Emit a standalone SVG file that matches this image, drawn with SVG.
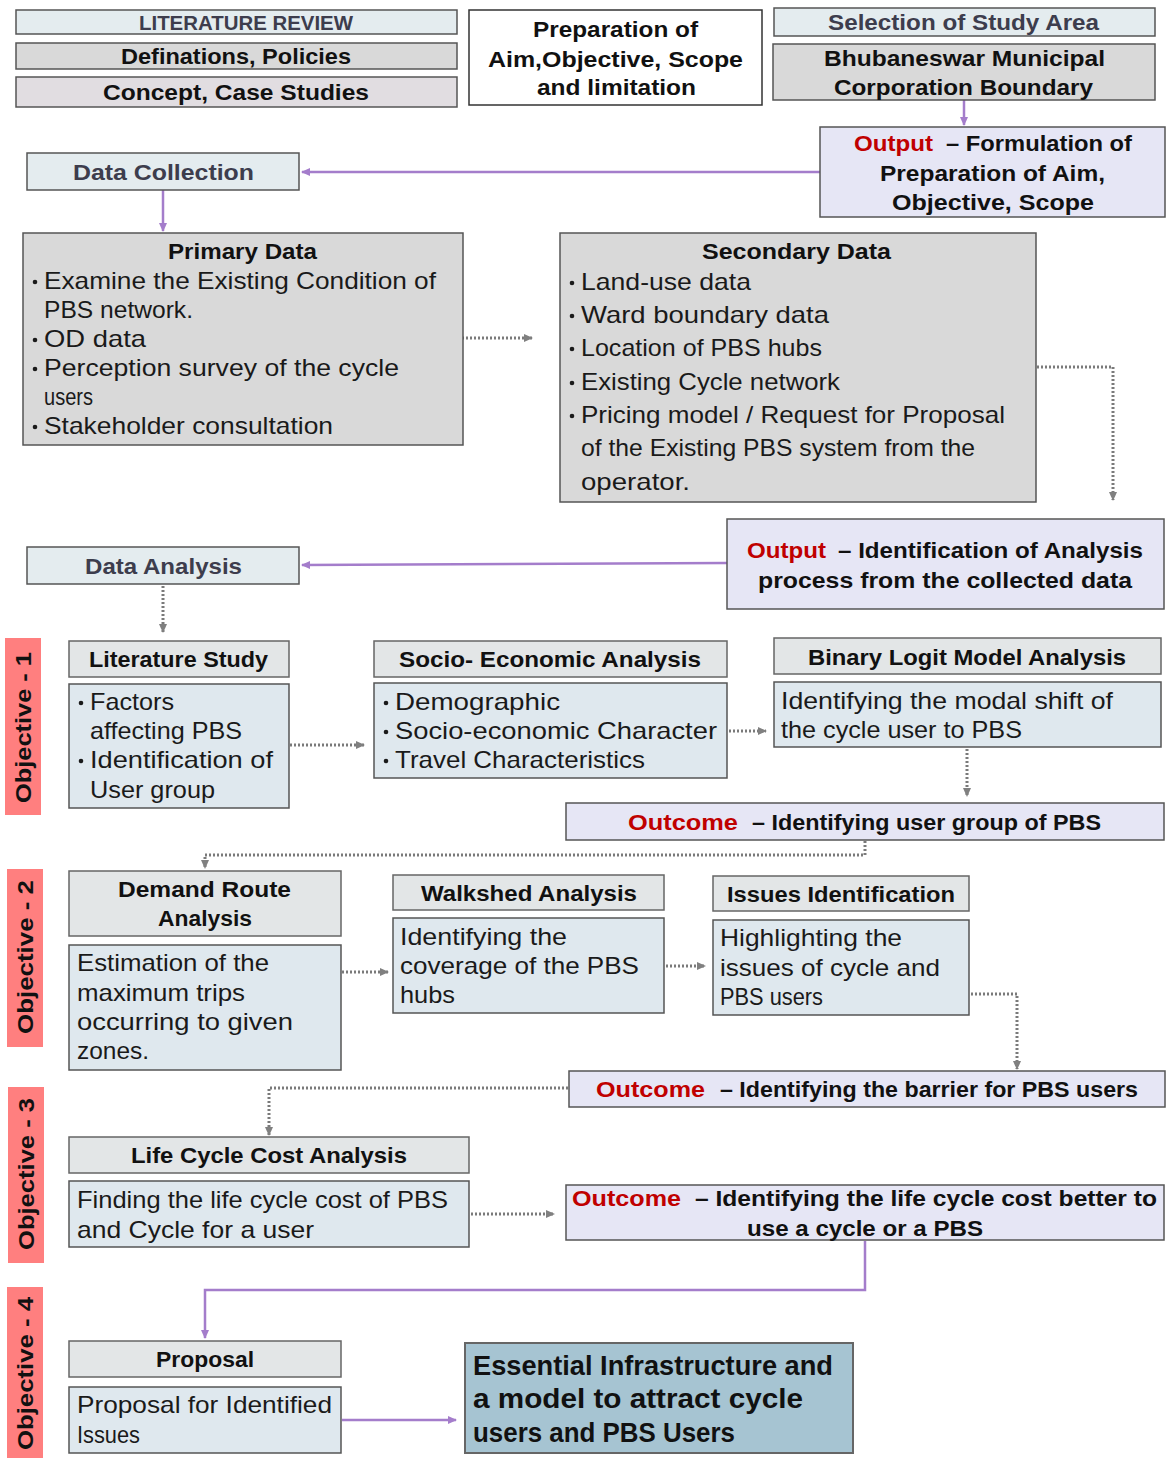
<svg xmlns="http://www.w3.org/2000/svg" width="1166" height="1458" viewBox="0 0 1166 1458">
<defs>
<style>
.b{font-family:"Liberation Sans",Arial,sans-serif;font-weight:bold;fill:#111}
.r{font-family:"Liberation Sans",Arial,sans-serif;fill:#1a1a1a}
.g{fill:#3d3d4d}
.red{fill:#c00000}
.lb{fill:#e4ecef;stroke:#555;stroke-width:1.5}
.gr{fill:#d9d9d9;stroke:#555;stroke-width:1.5}
.pk{fill:#e1dde1;stroke:#555;stroke-width:1.5}
.lv{fill:#e6e6f5;stroke:#555;stroke-width:1.5}
.hd{fill:#e3e6e7;stroke:#666;stroke-width:1.5}
.bd{fill:#dfe8ee;stroke:#555;stroke-width:1.5}
.ob{fill:#ff7f7f}
.wh{fill:#fff;stroke:#333;stroke-width:1.5}
.es{fill:#a6c4d2;stroke:#666;stroke-width:2}
.pa{fill:none;stroke:#a47dcb;stroke-width:2.5}
.da{fill:none;stroke:#7a7a7a;stroke-width:3;stroke-dasharray:2 2}
.bu{fill:#1a1a1a}
</style>
<marker id="ap" markerWidth="10" markerHeight="10" refX="8" refY="5" orient="auto" markerUnits="userSpaceOnUse"><path d="M0,1 L9,5 L0,9 z" fill="#a47dcb"/></marker>
<marker id="ag" markerWidth="10" markerHeight="10" refX="8" refY="5" orient="auto" markerUnits="userSpaceOnUse"><path d="M0,1 L9,5 L0,9 z" fill="#808080"/></marker>
</defs>

<g id="connectors">
<line class="pa" x1="964" y1="100" x2="964" y2="125" marker-end="url(#ap)"/>
<line class="pa" x1="820" y1="172" x2="302" y2="172" marker-end="url(#ap)"/>
<line class="pa" x1="163" y1="190" x2="163" y2="231" marker-end="url(#ap)"/>
<line class="da" x1="462" y1="338" x2="532" y2="338" marker-end="url(#ag)"/>
<polyline class="da" points="1037,367 1113,367 1113,500" marker-end="url(#ag)"/>
<line class="pa" x1="727" y1="563" x2="302" y2="565" marker-end="url(#ap)"/>
<line class="da" x1="163" y1="586" x2="163" y2="632" marker-end="url(#ag)"/>
<line class="da" x1="290" y1="745" x2="364" y2="745" marker-end="url(#ag)"/>
<line class="da" x1="729" y1="731" x2="766" y2="731" marker-end="url(#ag)"/>
<line class="da" x1="967" y1="749" x2="967" y2="796" marker-end="url(#ag)"/>
<polyline class="da" points="865,841 865,855 205,855 205,868" marker-end="url(#ag)"/>
<line class="da" x1="342" y1="972" x2="388" y2="972" marker-end="url(#ag)"/>
<line class="da" x1="666" y1="966" x2="705" y2="966" marker-end="url(#ag)"/>
<polyline class="da" points="971,994 1017,994 1017,1069" marker-end="url(#ag)"/>
<polyline class="da" points="568,1088 269,1088 269,1135" marker-end="url(#ag)"/>
<line class="da" x1="471" y1="1214" x2="554" y2="1214" marker-end="url(#ag)"/>
<polyline class="pa" points="865,1241 865,1290 205,1290 205,1338" marker-end="url(#ap)"/>
<line class="pa" x1="342" y1="1420" x2="456" y2="1420" marker-end="url(#ap)"/>
</g>

<g id="literature-review"><rect class="lb" x="16" y="10" width="441" height="24"/><text class="b g" x="139" y="30" font-size="21" textLength="214" lengthAdjust="spacingAndGlyphs">LITERATURE REVIEW</text></g>
<g id="definations"><rect class="gr" x="16" y="43" width="441" height="26"/><text class="b" x="121" y="64" font-size="22" textLength="230" lengthAdjust="spacingAndGlyphs">Definations, Policies</text></g>
<g id="concept"><rect class="pk" x="16" y="77" width="441" height="30"/><text class="b" x="103" y="100" font-size="22" textLength="266" lengthAdjust="spacingAndGlyphs">Concept, Case Studies</text></g>

<g id="aim"><rect class="wh" x="469" y="10" width="293" height="95"/>
<text class="b" x="533" y="37" font-size="22" textLength="165" lengthAdjust="spacingAndGlyphs">Preparation of</text>
<text class="b" x="488" y="67" font-size="22" textLength="255" lengthAdjust="spacingAndGlyphs">Aim,Objective, Scope</text>
<text class="b" x="537" y="95" font-size="22" textLength="159" lengthAdjust="spacingAndGlyphs">and limitation</text></g>

<g id="selection"><rect class="lb" x="774" y="8" width="381" height="28"/><text class="b g" x="828" y="30" font-size="22" textLength="271" lengthAdjust="spacingAndGlyphs">Selection of Study Area</text></g>
<g id="bmc"><rect class="gr" x="773" y="44" width="382" height="56"/>
<text class="b" x="824" y="66" font-size="22" textLength="281" lengthAdjust="spacingAndGlyphs">Bhubaneswar Municipal</text>
<text class="b" x="834" y="95" font-size="22" textLength="259" lengthAdjust="spacingAndGlyphs">Corporation Boundary</text></g>

<g id="output1"><rect class="lv" x="820" y="127" width="345" height="90"/>
<text class="b red" x="854" y="151" font-size="22" textLength="79" lengthAdjust="spacingAndGlyphs">Output</text>
<text class="b" x="946" y="151" font-size="22" textLength="186" lengthAdjust="spacingAndGlyphs">– Formulation of</text>
<text class="b" x="880" y="181" font-size="22" textLength="225" lengthAdjust="spacingAndGlyphs">Preparation of Aim,</text>
<text class="b" x="892" y="210" font-size="22" textLength="202" lengthAdjust="spacingAndGlyphs">Objective, Scope</text></g>

<g id="data-collection"><rect class="lb" x="27" y="153" width="272" height="37"/><text class="b g" x="73" y="180" font-size="22" textLength="181" lengthAdjust="spacingAndGlyphs">Data Collection</text></g>

<g id="primary"><rect class="gr" x="23" y="233" width="440" height="212"/>
<text class="b" x="168" y="259" font-size="22" textLength="149" lengthAdjust="spacingAndGlyphs">Primary Data</text>
<g class="bu"><circle cx="35" cy="282" r="2.3"/><circle cx="35" cy="340" r="2.3"/><circle cx="35" cy="369" r="2.3"/><circle cx="35" cy="427" r="2.3"/></g>
<g class="r" font-size="24">
<text x="44" y="289" textLength="392" lengthAdjust="spacingAndGlyphs">Examine  the Existing Condition of</text>
<text x="44" y="318" textLength="149" lengthAdjust="spacingAndGlyphs">PBS network.</text>
<text x="44" y="347" textLength="102" lengthAdjust="spacingAndGlyphs">OD data</text>
<text x="44" y="376" textLength="355" lengthAdjust="spacingAndGlyphs">Perception survey of the cycle</text>
<text x="44" y="405" textLength="49" lengthAdjust="spacingAndGlyphs">users</text>
<text x="44" y="434" textLength="289" lengthAdjust="spacingAndGlyphs">Stakeholder consultation</text>
</g></g>

<g id="secondary"><rect class="gr" x="560" y="233" width="476" height="269"/>
<text class="b" x="702" y="259" font-size="22" textLength="189" lengthAdjust="spacingAndGlyphs">Secondary Data</text>
<g class="bu"><circle cx="572" cy="283" r="2.3"/><circle cx="572" cy="316" r="2.3"/><circle cx="572" cy="349" r="2.3"/><circle cx="572" cy="383" r="2.3"/><circle cx="572" cy="416" r="2.3"/></g>
<g class="r" font-size="24">
<text x="581" y="290" textLength="170" lengthAdjust="spacingAndGlyphs">Land-use data</text>
<text x="581" y="323" textLength="248" lengthAdjust="spacingAndGlyphs">Ward boundary data</text>
<text x="581" y="356" textLength="241" lengthAdjust="spacingAndGlyphs">Location of PBS hubs</text>
<text x="581" y="390" textLength="259" lengthAdjust="spacingAndGlyphs">Existing Cycle network</text>
<text x="581" y="423" textLength="424" lengthAdjust="spacingAndGlyphs">Pricing model / Request for Proposal</text>
<text x="581" y="456" textLength="394" lengthAdjust="spacingAndGlyphs">of the Existing PBS system from the</text>
<text x="581" y="490" textLength="109" lengthAdjust="spacingAndGlyphs">operator.</text>
</g></g>

<g id="output2"><rect class="lv" x="727" y="519" width="437" height="90"/>
<text class="b red" x="747" y="558" font-size="22" textLength="79" lengthAdjust="spacingAndGlyphs">Output</text>
<text class="b" x="838" y="558" font-size="22" textLength="305" lengthAdjust="spacingAndGlyphs">– Identification of Analysis</text>
<text class="b" x="758" y="588" font-size="22" textLength="374" lengthAdjust="spacingAndGlyphs">process from the collected data</text></g>

<g id="data-analysis"><rect class="lb" x="27" y="547" width="272" height="37"/><text class="b g" x="85" y="574" font-size="22" textLength="157" lengthAdjust="spacingAndGlyphs">Data Analysis</text></g>

<g id="objective-1"><rect class="ob" x="5" y="638" width="36" height="177"/><text class="b" transform="translate(31,803) rotate(-90)" x="0" y="0" font-size="22" textLength="151" lengthAdjust="spacingAndGlyphs">Objective - 1</text></g>
<g id="objective-2"><rect class="ob" x="7" y="869" width="36" height="178"/><text class="b" transform="translate(33,1034) rotate(-90)" x="0" y="0" font-size="22" textLength="154" lengthAdjust="spacingAndGlyphs">Objective - 2</text></g>
<g id="objective-3"><rect class="ob" x="8" y="1087" width="36" height="176"/><text class="b" transform="translate(34,1250) rotate(-90)" x="0" y="0" font-size="22" textLength="152" lengthAdjust="spacingAndGlyphs">Objective - 3</text></g>
<g id="objective-4"><rect class="ob" x="7" y="1287" width="36" height="171"/><text class="b" transform="translate(33,1450) rotate(-90)" x="0" y="0" font-size="22" textLength="153" lengthAdjust="spacingAndGlyphs">Objective - 4</text></g>

<g id="literature-study"><rect class="hd" x="69" y="641" width="220" height="36"/>
<text class="b" x="89" y="667" font-size="22" textLength="179" lengthAdjust="spacingAndGlyphs">Literature Study</text>
<rect class="bd" x="69" y="684" width="220" height="124"/>
<g class="bu"><circle cx="81" cy="703" r="2.3"/><circle cx="81" cy="761" r="2.3"/></g>
<g class="r" font-size="24">
<text x="90" y="710" textLength="84" lengthAdjust="spacingAndGlyphs">Factors</text>
<text x="90" y="739" textLength="152" lengthAdjust="spacingAndGlyphs">affecting PBS</text>
<text x="90" y="768" textLength="183" lengthAdjust="spacingAndGlyphs">Identification of</text>
<text x="90" y="798" textLength="125" lengthAdjust="spacingAndGlyphs">User group</text>
</g></g>

<g id="socio-economic"><rect class="hd" x="374" y="641" width="353" height="36"/>
<text class="b" x="399" y="667" font-size="22" textLength="302" lengthAdjust="spacingAndGlyphs">Socio- Economic Analysis</text>
<rect class="bd" x="374" y="683" width="353" height="95"/>
<g class="bu"><circle cx="386" cy="703" r="2.3"/><circle cx="386" cy="732" r="2.3"/><circle cx="386" cy="761" r="2.3"/></g>
<g class="r" font-size="24">
<text x="395" y="710" textLength="165" lengthAdjust="spacingAndGlyphs">Demographic</text>
<text x="395" y="739" textLength="322" lengthAdjust="spacingAndGlyphs">Socio-economic Character</text>
<text x="395" y="768" textLength="250" lengthAdjust="spacingAndGlyphs">Travel Characteristics</text>
</g></g>

<g id="binary-logit"><rect class="hd" x="774" y="638" width="387" height="36"/>
<text class="b" x="808" y="665" font-size="22" textLength="318" lengthAdjust="spacingAndGlyphs">Binary Logit Model Analysis</text>
<rect class="bd" x="774" y="682" width="387" height="65"/>
<g class="r" font-size="24">
<text x="781" y="709" textLength="332" lengthAdjust="spacingAndGlyphs">Identifying the modal shift of</text>
<text x="781" y="738" textLength="241" lengthAdjust="spacingAndGlyphs">the cycle user to PBS</text>
</g></g>

<g id="outcome1"><rect class="lv" x="566" y="803" width="598" height="37"/>
<text class="b red" x="628" y="830" font-size="22" textLength="110" lengthAdjust="spacingAndGlyphs">Outcome</text>
<text class="b" x="752" y="830" font-size="22" textLength="349" lengthAdjust="spacingAndGlyphs">– Identifying user group of PBS</text></g>

<g id="demand-route"><rect class="hd" x="69" y="871" width="272" height="65"/>
<text class="b" x="118" y="897" font-size="22" textLength="173" lengthAdjust="spacingAndGlyphs">Demand Route</text>
<text class="b" x="158" y="926" font-size="22" textLength="94" lengthAdjust="spacingAndGlyphs">Analysis</text>
<rect class="bd" x="69" y="945" width="272" height="125"/>
<g class="r" font-size="24">
<text x="77" y="971" textLength="192" lengthAdjust="spacingAndGlyphs">Estimation of the</text>
<text x="77" y="1001" textLength="168" lengthAdjust="spacingAndGlyphs">maximum trips</text>
<text x="77" y="1030" textLength="216" lengthAdjust="spacingAndGlyphs">occurring to given</text>
<text x="77" y="1059" textLength="72" lengthAdjust="spacingAndGlyphs">zones.</text>
</g></g>

<g id="walkshed"><rect class="hd" x="393" y="875" width="271" height="35"/>
<text class="b" x="421" y="901" font-size="22" textLength="216" lengthAdjust="spacingAndGlyphs">Walkshed Analysis</text>
<rect class="bd" x="393" y="918" width="271" height="95"/>
<g class="r" font-size="24">
<text x="400" y="945" textLength="167" lengthAdjust="spacingAndGlyphs">Identifying the</text>
<text x="400" y="974" textLength="239" lengthAdjust="spacingAndGlyphs">coverage of the PBS</text>
<text x="400" y="1003" textLength="55" lengthAdjust="spacingAndGlyphs">hubs</text>
</g></g>

<g id="issues"><rect class="hd" x="713" y="876" width="256" height="35"/>
<text class="b" x="727" y="902" font-size="22" textLength="228" lengthAdjust="spacingAndGlyphs">Issues Identification</text>
<rect class="bd" x="713" y="920" width="256" height="95"/>
<g class="r" font-size="24">
<text x="720" y="946" textLength="182" lengthAdjust="spacingAndGlyphs">Highlighting the</text>
<text x="720" y="976" textLength="220" lengthAdjust="spacingAndGlyphs">issues of cycle and</text>
<text x="720" y="1005" textLength="103" lengthAdjust="spacingAndGlyphs">PBS users</text>
</g></g>

<g id="outcome2"><rect class="lv" x="569" y="1071" width="596" height="36"/>
<text class="b red" x="596" y="1097" font-size="22" textLength="109" lengthAdjust="spacingAndGlyphs">Outcome</text>
<text class="b" x="720" y="1097" font-size="22" textLength="418" lengthAdjust="spacingAndGlyphs">– Identifying the barrier for PBS users</text></g>

<g id="life-cycle"><rect class="hd" x="69" y="1137" width="400" height="36"/>
<text class="b" x="131" y="1163" font-size="22" textLength="276" lengthAdjust="spacingAndGlyphs">Life Cycle Cost Analysis</text>
<rect class="bd" x="69" y="1181" width="400" height="66"/>
<g class="r" font-size="24">
<text x="77" y="1208" textLength="371" lengthAdjust="spacingAndGlyphs">Finding the life cycle cost of PBS</text>
<text x="77" y="1238" textLength="237" lengthAdjust="spacingAndGlyphs">and Cycle for a user</text>
</g></g>

<g id="outcome3"><rect class="lv" x="566" y="1185" width="598" height="55"/>
<text class="b red" x="572" y="1206" font-size="22" textLength="109" lengthAdjust="spacingAndGlyphs">Outcome</text>
<text class="b" x="695" y="1206" font-size="22" textLength="462" lengthAdjust="spacingAndGlyphs">– Identifying the life cycle cost better to</text>
<text class="b" x="747" y="1236" font-size="22" textLength="236" lengthAdjust="spacingAndGlyphs">use a cycle or a PBS</text></g>

<g id="proposal"><rect class="hd" x="69" y="1341" width="272" height="36"/>
<text class="b" x="156" y="1367" font-size="22" textLength="98" lengthAdjust="spacingAndGlyphs">Proposal</text>
<rect class="bd" x="69" y="1387" width="272" height="66"/>
<g class="r" font-size="24">
<text x="77" y="1413" textLength="255" lengthAdjust="spacingAndGlyphs">Proposal for Identified</text>
<text x="77" y="1443" textLength="63" lengthAdjust="spacingAndGlyphs">Issues</text>
</g></g>

<g id="essential"><rect class="es" x="465" y="1343" width="388" height="110"/>
<text class="b" x="473" y="1375" font-size="28" textLength="360" lengthAdjust="spacingAndGlyphs">Essential Infrastructure and</text>
<text class="b" x="473" y="1408" font-size="28" textLength="330" lengthAdjust="spacingAndGlyphs">a model to attract cycle</text>
<text class="b" x="473" y="1442" font-size="28" textLength="262" lengthAdjust="spacingAndGlyphs">users and PBS Users</text></g>
</svg>
